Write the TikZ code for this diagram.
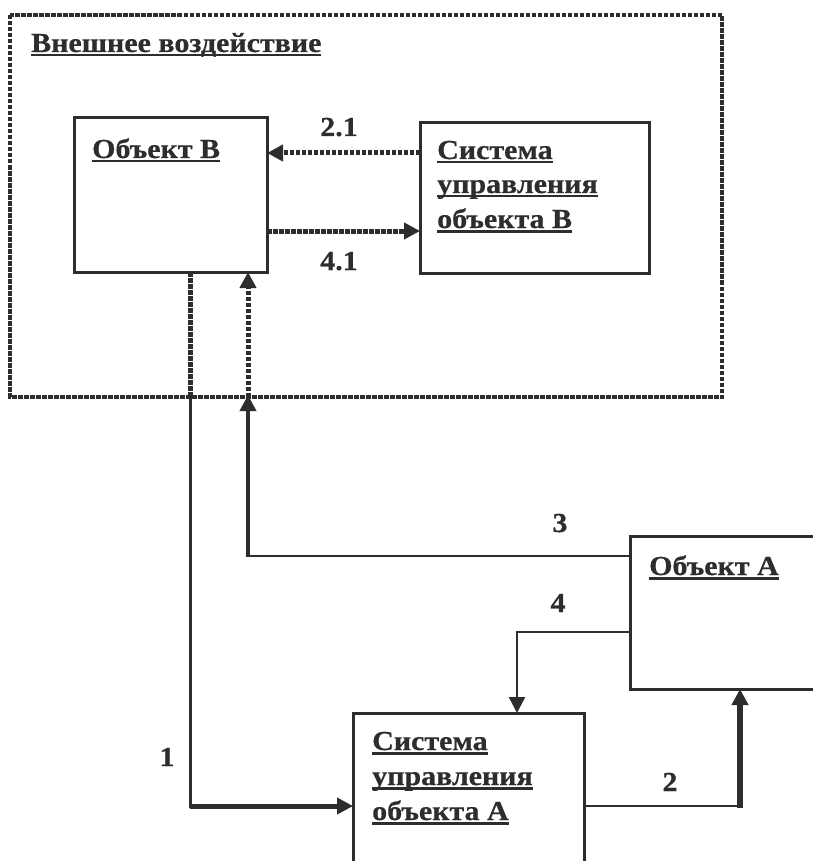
\documentclass[tikz,border=0pt]{standalone}
\usepackage{fontspec}
\setmainfont{Liberation Serif}[FakeStretch=1.09, BoldFeatures={FakeBold=0.6}]
\usetikzlibrary{arrows.meta}
\definecolor{ink}{RGB}{45,45,45}
% underline at a fixed depth below the baseline
\newcommand{\ulx}[1]{\setbox0\hbox{#1}\rlap{\rule[-4.5pt]{\wd0}{2.6pt}}\box0}
\tikzset{
  blk/.style={draw=ink, line width=3pt, outer sep=0pt, inner sep=0pt, anchor=north west},
  ttl/.style={anchor=base west, inner sep=0pt, text=ink,
    font=\fontsize{27.5}{34}\selectfont\bfseries},
  num/.style={anchor=base, inner sep=0pt, text=ink, font=\fontsize{27.5}{30}\selectfont\bfseries},
  dots/.style={draw=ink, line width=5pt, dash pattern=on 4.5pt off 1.5pt},
  tip/.style={-{Triangle[length=16pt,width=16pt]}},
  wire/.style={draw=ink, line width=#1},
  wire/.default=3pt
}
\begin{document}
\begin{tikzpicture}[x=1pt,y=-1pt]
\useasboundingbox (0,0) rectangle (812,861);
\fill[white] (0,0) rectangle (812,861);

% external influence frame
\draw[dots, line width=4.5pt] (10,15) rectangle (722,397);
\node[ttl] (ext) at (31,52) {\ulx{Внешнее воздействие}};

% boxes
\node[blk, minimum width=193pt, minimum height=154pt] (objB) at (74,118) {};
\node[blk, minimum width=229pt, minimum height=150pt] (sysB) at (420,123) {};
\node[blk, minimum width=200pt, minimum height=153pt] (objA) at (630,536) {};
\node[blk, minimum width=231pt, minimum height=170pt] (sysA) at (353,713) {};

\node[ttl] (objBt) at (92,158) {\ulx{Объект В}};
\node[ttl] (sysBt1) at (437,159) {\ulx{Система}};
\node[ttl] (sysBt2) at (437,193) {\ulx{управления}};
\node[ttl] (sysBt3) at (437,228) {\ulx{объекта В}};
\node[ttl] (objAt) at (649,575) {\ulx{Объект А}};
\node[ttl] (sysAt1) at (372,750) {\ulx{Система}};
\node[ttl] (sysAt2) at (372,785) {\ulx{управления}};
\node[ttl] (sysAt3) at (372,820) {\ulx{объекта А}};

% links inside the frame
\draw[dots, tip] (sysB.west |- 0,153) -- (objB.east |- 0,153);
\draw[dots, tip] (objB.east |- 0,231) -- (sysB.west |- 0,231);
\node[num] (l21) at (339,136) {2.1};
\node[num] (l41) at (339,270) {4.1};

% crossings of the frame
\coordinate (outB) at (190,397);
\coordinate (inB) at (248,397);
\draw[dots] (objB.south -| outB) -- (outB);
\draw[dots, tip] (inB) -- (objB.south -| inB);

% 1: object B to control system A
\draw[wire, line cap=rect] (outB) -- (190,806);
\draw[wire=5pt, tip] (190,806) -- (sysA.west |- 0,806);
\node[num] (l1) at (167,766) {1};

% 2: control system A to object A
\draw[wire=2.5pt] (sysA.east |- 0,806) -- (740,806);
\draw[wire=5.5pt, tip] (740,808) -- (objA.south -| 740,0);
\node[num] (l2) at (670,791) {2};

% 3: object A to object B
\draw[wire=2.5pt] (objA.west |- 0,556) -- (248,556);
\draw[wire=3.5pt, tip] (248,557) -- ([yshift=2pt]inB);
\node[num] (l3) at (560,532) {3};

% 4: object A to control system A
\draw[wire=2.5pt, tip] (objA.west |- 0,632) -- (517,632) -- (sysA.north -| 517,0);
\node[num] (l4) at (558,612) {4};
\end{tikzpicture}
\end{document}
